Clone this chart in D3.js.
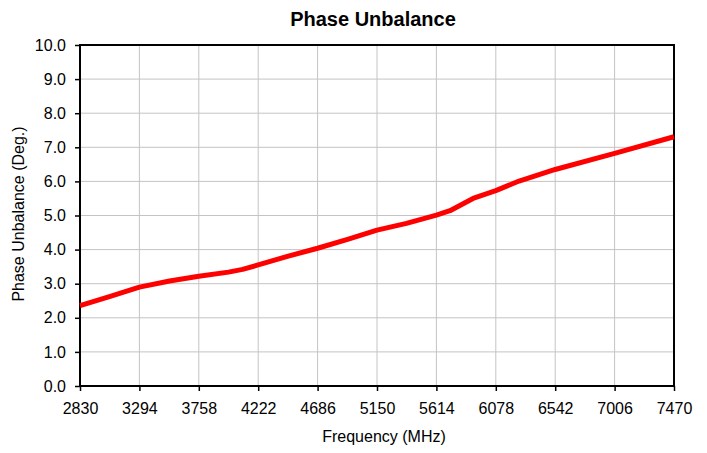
<!DOCTYPE html>
<html>
<head>
<meta charset="utf-8">
<script src="https://cdn.jsdelivr.net/npm/d3@7"></script>
<style>
  body { margin: 0; background: #fff; }
  text { font-family: "Liberation Sans", Arial, sans-serif; fill: #000; }
</style>
</head>
<body>
<svg id="chart" width="707" height="453"></svg>
<script>
// data
const freqs = [2830, 3060, 3294, 3530, 3758, 3990, 4100, 4222, 4450, 4686, 4920,
               5150, 5380, 5614, 5720, 5900, 6078, 6260, 6542, 7006, 7470];
const phase = [2.36, 2.62, 2.90, 3.08, 3.22, 3.34, 3.42, 3.55, 3.80, 4.04, 4.30,
               4.57, 4.77, 5.01, 5.14, 5.50, 5.73, 6.01, 6.35, 6.82, 7.31];
const xTicks = [2830, 3294, 3758, 4222, 4686, 5150, 5614, 6078, 6542, 7006, 7470];
const yTicks = [0, 1, 2, 3, 4, 5, 6, 7, 8, 9, 10];

const svg = d3.select('#chart');
const margin = { top: 45, right: 33, bottom: 67, left: 80 };
const graphWidth = 707 - margin.left - margin.right;
const graphHeight = 453 - margin.top - margin.bottom;

const graph = svg.append('g')
  .attr('transform', `translate(${margin.left}, ${margin.top})`);

const x = d3.scaleLinear().domain([2830, 7470]).range([0, graphWidth]);
const y = d3.scaleLinear().domain([0, 10]).range([graphHeight, 0]);

// grid
graph.append('g')
  .selectAll('line')
  .data(xTicks)
  .enter().append('line')
  .attr('x1', d => x(d)).attr('x2', d => x(d))
  .attr('y1', 0).attr('y2', graphHeight)
  .attr('stroke', '#c4c4c4').attr('stroke-width', 1);

graph.append('g')
  .selectAll('line')
  .data(yTicks)
  .enter().append('line')
  .attr('x1', 0).attr('x2', graphWidth)
  .attr('y1', d => y(d)).attr('y2', d => y(d))
  .attr('stroke', '#c4c4c4').attr('stroke-width', 1);

// axes
const xAxis = d3.axisBottom(x).tickValues(xTicks).tickFormat(d3.format('d'))
  .tickSizeInner(5).tickSizeOuter(0).tickPadding(12);
const yAxis = d3.axisLeft(y).tickValues(yTicks).tickFormat(d3.format('.1f'))
  .tickSizeInner(5).tickSizeOuter(0).tickPadding(9);

const xAxisGroup = graph.append('g')
  .attr('transform', `translate(0, ${graphHeight})`)
  .call(xAxis);
const yAxisGroup = graph.append('g').call(yAxis);

[xAxisGroup, yAxisGroup].forEach(g => {
  g.select('.domain').remove();
  g.selectAll('.tick line').attr('stroke', '#000').attr('stroke-width', 1.5);
  g.selectAll('text').attr('font-size', 16).attr('font-family', '"Liberation Sans", Arial, sans-serif');
});

// frame
graph.append('rect')
  .attr('width', graphWidth).attr('height', graphHeight)
  .attr('fill', 'none').attr('stroke', '#000').attr('stroke-width', 2);

// line
const line = d3.line().x(d => x(d[0])).y(d => y(d[1]));
graph.append('path')
  .datum(freqs.map((f, i) => [f, phase[i]]))
  .attr('d', line)
  .attr('fill', 'none')
  .attr('stroke', '#ff0000')
  .attr('stroke-width', 5)
  .attr('stroke-linejoin', 'round');

// titles
svg.append('text')
  .attr('x', 373).attr('y', 26)
  .attr('text-anchor', 'middle')
  .attr('font-size', 20).attr('font-weight', 'bold')
  .text('Phase Unbalance');

svg.append('text')
  .attr('x', 384).attr('y', 442)
  .attr('text-anchor', 'middle')
  .attr('font-size', 16)
  .text('Frequency (MHz)');

svg.append('text')
  .attr('transform', `translate(24, 214) rotate(-90)`)
  .attr('text-anchor', 'middle')
  .attr('font-size', 16)
  .text('Phase Unbalance (Deg.)');
</script>
</body>
</html>
